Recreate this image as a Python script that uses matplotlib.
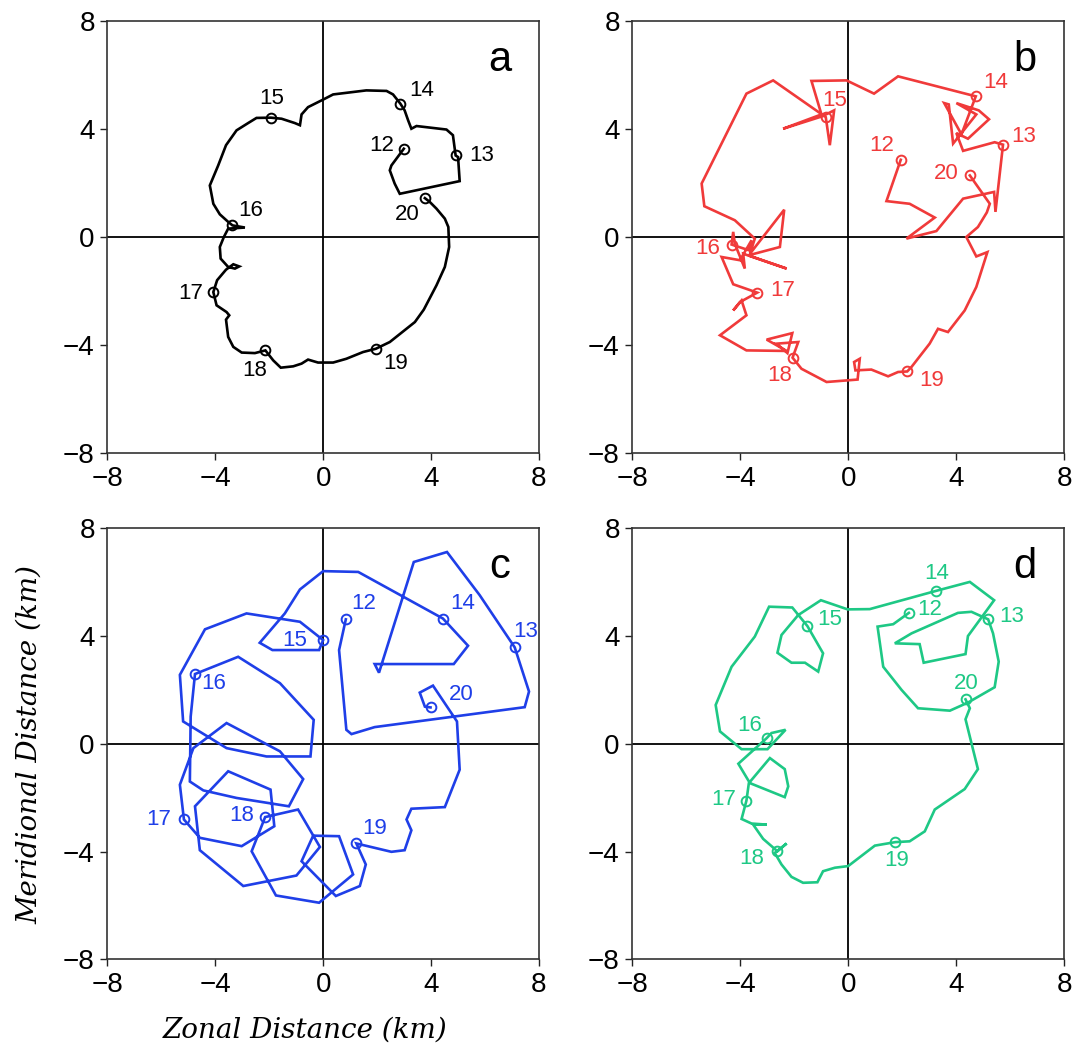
import matplotlib
matplotlib.use("Agg")
import matplotlib.pyplot as plt

plt.rcParams['font.family'] = ['Liberation Sans', 'DejaVu Sans']

# ---- track data (km), hours 12 -> 20 ----
a_x = [2.99, 2.53, 2.47, 2.65, 2.84, 5.06, 5.00, 4.91, 4.81, 4.57, 3.46, 3.27, 3.15, 3.02, 2.86, 2.59, 2.35, 1.60,
       0.37, 0.00, -0.56, -0.80, -0.86, -1.05, -1.54, -1.94, -2.47, -2.78, -3.21, -3.60, -3.89, -4.20, -4.07, -3.83,
       -3.52, -3.36, -2.90, -3.52, -3.68, -3.83, -3.80, -3.52, -3.27, -3.11, -3.33, -3.60, -3.93, -4.07, -3.95, -3.58,
       -3.48, -3.60, -3.52, -3.33, -3.02, -2.53, -2.14, -1.85, -1.57, -1.11, -0.80, -0.56, -0.19, 0.37, 0.86, 1.48,
       1.95, 2.47, 3.40, 3.73, 4.20, 4.51, 4.67, 4.64, 4.51, 4.20, 3.95, 3.77]
a_y = [3.27, 2.65, 2.47, 1.98, 1.60, 2.07, 2.96, 3.02, 3.77, 3.98, 4.11, 4.01, 4.32, 4.69, 4.94, 5.28, 5.41, 5.43,
       5.28, 5.09, 4.81, 4.54, 4.14, 4.22, 4.38, 4.42, 4.41, 4.22, 3.95, 3.40, 2.65, 1.91, 1.23, 0.84, 0.56, 0.43,
       0.35, 0.31, 0.00, -0.37, -0.80, -1.11, -1.17, -1.09, -1.01, -1.21, -1.60, -2.04, -2.53, -2.78, -2.90, -3.06,
       -3.70, -4.07, -4.28, -4.30, -4.20, -4.57, -4.84, -4.79, -4.69, -4.54, -4.65, -4.65, -4.51, -4.26, -4.14,
       -3.89, -3.15, -2.69, -1.79, -1.11, -0.37, 0.37, 0.68, 1.05, 1.30, 1.44]

b_x = [1.95, 1.42, 2.28, 3.21, 2.16, 3.27, 4.26, 5.41, 5.46, 5.74, 5.43, 4.26, 4.01, 4.44, 5.22, 4.84, 4.01, 4.75,
       3.89, 3.73, 3.56, 4.20, 4.73, 1.85, 0.96, -0.06, -1.36, -0.99, -2.41, -0.96, -0.52, -0.68, -0.83, -2.78,
       -3.77, -5.43, -5.33, -4.20, -3.46, -3.64, -2.37, -2.53, -3.70, -2.28, -3.89, -3.83, -4.20, -4.26, -4.32,
       -3.68, -3.58, -4.01, -4.69, -4.26, -3.37, -4.01, -4.26, -3.95, -3.77, -4.75, -3.77, -2.28, -3.02, -2.07,
       -2.25, -2.65, -1.85, -2.06, -1.73, -0.80, 0.35, 0.43, 0.22, 0.27, 0.86, 1.48, 1.85, 2.19, 2.35, 3.02, 3.33,
       3.70, 4.32, 4.75, 5.16, 4.75, 4.38, 4.81, 5.14, 5.25, 4.51]
b_y = [2.86, 1.33, 1.23, 0.72, -0.06, 0.22, 1.42, 1.67, 0.93, 3.42, 3.51, 3.19, 3.85, 3.64, 4.36, 4.69, 4.96, 4.54,
       3.46, 4.91, 4.96, 3.80, 5.21, 5.95, 5.31, 5.80, 5.78, 4.54, 4.01, 4.47, 4.69, 3.40, 4.44, 5.80, 5.31, 1.98,
       1.14, 0.62, -0.06, -0.62, 1.01, -0.37, -0.68, -1.17, -0.62, -1.17, -0.25, 0.19, -0.28, -0.49, -0.12, -0.86,
       -0.74, -1.75, -2.06, -2.41, -2.72, -2.35, -2.90, -3.64, -4.20, -4.22, -3.80, -3.56, -4.30, -3.95, -3.89,
       -4.47, -4.88, -5.37, -5.28, -4.51, -4.63, -4.94, -4.91, -5.16, -5.00, -4.98, -4.81, -3.95, -3.40, -3.52,
       -2.72, -1.85, -0.56, -0.72, 0.00, 0.37, 0.91, 1.23, 2.28]

c_x = [0.84, 0.59, 0.86, 1.05, 1.91, 7.47, 7.63, 7.10, 5.80, 4.59, 3.36, 2.07, 1.91, 4.84, 5.37, 4.44, 1.30, 0.00,
       -0.86, -1.42, -2.35, -1.88, -0.15, 0.00, -0.86, -2.84, -4.38, -5.31, -5.19, -3.58, -2.10, -0.47, -0.35,
       -1.60, -3.15, -4.75, -4.91, -4.94, -4.44, -3.21, -1.27, -0.74, -1.60, -3.58, -4.81, -5.31, -5.16, -4.57,
       -3.02, -1.81, -1.95, -3.52, -4.75, -4.57, -2.96, -0.99, -0.12, -0.93, -2.15, -2.65, -1.75, -0.15, 1.11,
       0.59, -0.37, -0.80, 0.47, 1.36, 1.58, 1.23, 2.53, 3.02, 3.27, 3.09, 3.27, 4.51, 5.06, 4.96, 4.07, 3.58,
       3.77, 3.98]
c_y = [4.62, 3.48, 0.52, 0.36, 0.62, 1.36, 1.94, 3.58, 5.52, 7.12, 6.75, 2.64, 2.96, 2.96, 3.64, 4.65, 6.38, 6.41,
       5.73, 4.84, 3.75, 3.48, 3.48, 3.85, 4.53, 4.84, 4.25, 2.56, 0.83, -0.16, -0.47, -0.47, 0.89, 2.25, 3.23,
       2.59, 1.01, -1.40, -1.73, -2.01, -2.32, -1.31, -0.28, 0.77, -0.16, -1.52, -2.81, -3.49, -3.80, -3.06,
       -1.70, -1.02, -2.32, -3.95, -5.28, -4.89, -3.83, -2.44, -2.72, -3.99, -5.63, -5.90, -4.85, -3.43, -3.41,
       -4.36, -5.65, -5.28, -4.48, -3.70, -4.01, -3.95, -3.21, -2.81, -2.41, -2.35, -0.96, 0.83, 2.16, 1.90,
       1.38, 1.35]

d_x = [2.25, 1.67, 1.09, 1.30, 1.98, 2.59, 3.77, 4.44, 5.43, 5.58, 5.37, 5.19, 4.57, 4.07, 2.35, 1.73, 2.65, 2.80,
       4.35, 4.44, 5.41, 4.51, 3.27, 0.80, -0.02, -1.01, -1.85, -2.47, -2.62, -2.10, -1.60, -1.11, -0.93, -1.51,
       -2.07, -2.93, -3.46, -4.32, -4.91, -4.75, -3.95, -2.99, -2.32, -2.84, -3.02, -4.07, -3.64, -2.35, -2.22,
       -2.35, -2.90, -3.68, -3.77, -3.95, -3.58, -3.02, -3.52, -3.15, -2.62, -2.28, -2.72, -2.47, -2.10, -1.67,
       -1.14, -0.93, -0.49, 0.00, 0.99, 1.75, 2.28, 2.84, 3.21, 4.32, 4.81, 4.35, 4.51, 4.35]
d_y = [4.86, 4.44, 4.35, 2.86, 2.00, 1.32, 1.23, 1.53, 2.10, 3.05, 4.10, 4.62, 4.90, 4.86, 4.10, 3.73, 3.70, 3.01,
       3.33, 4.00, 5.33, 6.01, 5.68, 5.00, 4.99, 5.33, 4.78, 4.04, 3.38, 3.01, 3.01, 2.68, 3.36, 4.37, 5.06, 5.09,
       3.98, 2.86, 1.44, 0.46, -0.20, -0.20, 0.52, 0.40, 0.21, -0.74, -1.46, -1.98, -1.58, -0.94, -0.53, -1.46,
       -2.11, -2.79, -2.96, -3.00, -3.00, -3.53, -3.99, -3.70, -4.05, -4.48, -4.94, -5.16, -5.14, -4.73, -4.60,
       -4.54, -3.78, -3.65, -3.62, -3.25, -2.44, -1.68, -0.94, 0.91, 1.32, 1.65]

# hourly positions (12 ... 20)
hours = ['12', '13', '14', '15', '16', '17', '18', '19', '20']
a_hx = [2.99, 4.91, 2.86, -1.94, -3.36, -4.07, -2.14, 1.95, 3.77]
a_hy = [3.27, 3.02, 4.94, 4.42, 0.43, -2.04, -4.20, -4.14, 1.44]
b_hx = [1.95, 5.74, 4.73, -0.83, -4.32, -3.37, -2.06, 2.19, 4.51]
b_hy = [2.86, 3.42, 5.21, 4.44, -0.28, -2.06, -4.47, -4.98, 2.28]
c_hx = [0.84, 7.10, 4.44, 0.00, -4.75, -5.16, -2.15, 1.23, 3.98]
c_hy = [4.62, 3.58, 4.65, 3.85, 2.59, -2.81, -2.72, -3.70, 1.35]
d_hx = [2.25, 5.19, 3.27, -1.51, -3.02, -3.77, -2.62, 1.75, 4.35]
d_hy = [4.86, 4.62, 5.68, 4.37, 0.21, -2.11, -3.99, -3.65, 1.65]

ticks = [-8, -4, 0, 4, 8]

# label offsets in pixels (style)
offs = {
    'a': [(-22, 3), (26, 0), (21, 13), (1, 19), (18, 15), (-23, -1), (-11, -20), (20, -15), (-18, -16)],
    'b': [(-19, 14), (21, 8), (20, 14), (9, 17), (-24, -4), (25, 2), (-13, -18), (24, -9), (-24, 2)],
    'c': [(18, 16), (11, 16), (20, 15), (-28, 0), (19, -9), (-25, 0), (-23, 2), (18, 15), (31, 13)],
    'd': [(21, 3), (24, 3), (0, 17), (22, 7), (-17, 13), (-23, 1), (-26, -7), (1, -18), (1, 16)],
}

panels = [
    ('a', a_x, a_y, a_hx, a_hy, 'black', [107.3, 21, 539, 453]),
    ('b', b_x, b_y, b_hx, b_hy, '#f03a3a', [632.3, 21, 1064, 453]),
    ('c', c_x, c_y, c_hx, c_hy, '#1f3fe8', [107.3, 528.3, 539, 959.3]),
    ('d', d_x, d_y, d_hx, d_hy, '#1ec885', [632.3, 528.3, 1064, 959.3]),
]

W, H = 1078, 1054
fig = plt.figure(figsize=(W / 100, H / 100), dpi=100)

for name, tx, ty, hx, hy, col, box in panels:
    l, t, r, b = box
    ax = fig.add_axes([l / W, 1 - b / H, (r - l) / W, (b - t) / H])
    ax.set_xlim(-8, 8)
    ax.set_ylim(-8, 8)
    ax.axhline(0, color='black', lw=1.3, zorder=1)
    ax.axvline(0, color='black', lw=1.3, zorder=1)
    ax.plot(tx, ty, color=col, lw=1.9, solid_joinstyle='miter', zorder=3)
    ax.plot(hx, hy, 'o', ms=7, mfc='none', mec=col, mew=1.4, zorder=4)
    for i, h in enumerate(hours):
        ax.annotate(h, (hx[i], hy[i]), xytext=offs[name][i], textcoords='offset pixels',
                    ha='center', va='center', fontsize=16, color=col, zorder=5)
    ax.text(0.91, 0.91, name, transform=ax.transAxes, ha='center', va='center', fontsize=30)
    ax.set_xticks(ticks)
    ax.set_yticks(ticks)
    ax.set_xticklabels([str(v).replace('-', '\u2212') for v in ticks])
    ax.set_yticklabels([str(v).replace('-', '\u2212') for v in ticks])
    ax.tick_params(direction='out', length=5, width=1, labelsize=20, pad=4, colors='#222222',
                   labelcolor='black')
    for sp in ax.spines.values():
        sp.set_linewidth(1.2)
        sp.set_color('#333333')

fig.text(305 / W, 1 - 1030 / H, 'Zonal Distance (km)', ha='center', va='center',
         fontsize=20, style='italic', family='DejaVu Serif')
fig.text(30 / W, 1 - 745 / H, 'Meridional Distance (km)', ha='center', va='center',
         fontsize=20, style='italic', family='DejaVu Serif', rotation=90)

fig.savefig('out.png', dpi=100)
